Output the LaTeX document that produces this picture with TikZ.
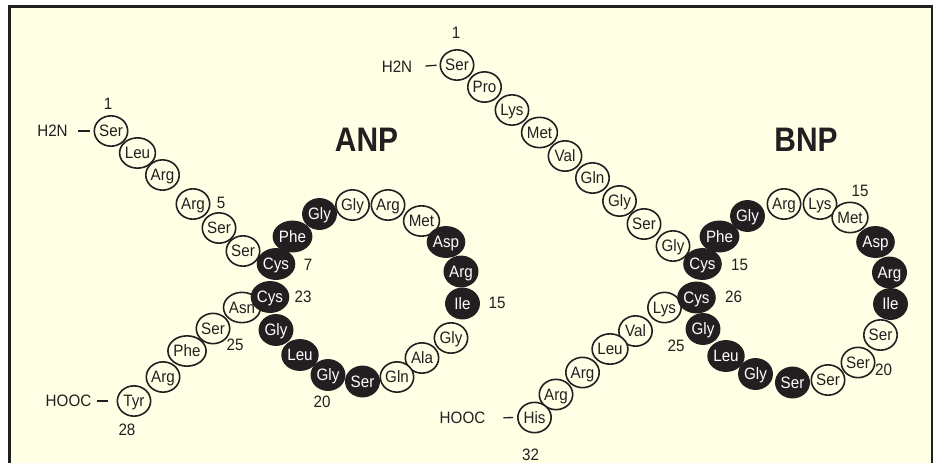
\documentclass[tikz,border=0pt]{standalone}
\usepackage{fontspec}
\setmainfont{Liberation Sans}[FakeStretch=0.92]
\newfontfamily\titlefont{Liberation Sans Bold}[FakeStretch=0.88]
\usetikzlibrary{shapes.geometric}
\definecolor{cream}{RGB}{255,255,230}
\definecolor{ink}{RGB}{35,31,32}

\begin{document}
\begin{tikzpicture}[x=1pt,y=-1pt,
  every node/.style={font=\fontsize{16.5}{16.5}\selectfont, text=ink},
  res/.style={ellipse, draw=ink, line width=1.6pt, fill=cream,
    minimum width=33.3pt, minimum height=30.3pt, inner sep=0pt,
    text height=11.8pt, text depth=0pt},
  resd/.style={res, fill=ink, text=white},
  num/.style={inner sep=0pt},
  term/.style={inner sep=0pt},
  title/.style={font=\titlefont\fontsize{34}{34}\selectfont, inner sep=0pt},
  bond/.style={draw=ink, line width=1.3pt}]

% page, background panel and frame
\useasboundingbox (0,0) rectangle (936,463);
\fill[white] (0,0) rectangle (936,463);
\fill[cream] (9.3,6.2) rectangle (932,463);
\draw[ink, line width=2.7pt] (9.3,463) -- (9.3,6.2) -- (932,6.2) -- (932,463);

% ---------------- ANP ----------------
\node[title] (anp) at (366.5,140) {ANP};

\node[res]  (a1)  at (111,131)     {Ser};
\node[res]  (a2)  at (137.5,153)   {Leu};
\node[res]  (a3)  at (162.5,175)   {Arg};
\node[res]  (a4)  at (193,204)     {Arg};
\node[res]  (a5)  at (219,228)     {Ser};
\node[res]  (a6)  at (243,251)     {Ser};
\node[resd] (a8)  at (292.5,236.5) {Phe};
\node[resd] (a9)  at (319.5,214)   {Gly};
\node[res]  (a10) at (352.5,205)   {Gly};
\node[res]  (a11) at (388,205)     {Arg};
\node[res]  (a12) at (421.5,221)   {Met};
\node[resd] (a13) at (446,242)     {Asp};
\node[resd] (a14) at (461,271.5)   {Arg};
\node[resd] (a15) at (462.5,303.5) {Ile};
\node[res]  (a16) at (451,338)     {Gly};
\node[res]  (a17) at (422,358)     {Ala};
\node[res]  (a18) at (397,377)     {Gln};
\node[resd] (a19) at (362.5,381.5) {Ser};
\node[resd] (a20) at (328,375)     {Gly};
\node[resd] (a21) at (300,355)     {Leu};
\node[resd] (a22) at (276,330)     {Gly};
\node[res]  (a24) at (242,307.5)   {Asn};
\node[resd] (a23) at (270,297)     {Cys};
\node[resd] (a7)  at (276,264)     {Cys};
\node[res]  (a25) at (213,328.5)   {Ser};
\node[res]  (a26) at (187,351)     {Phe};
\node[res]  (a27) at (163,377)     {Arg};
\node[res]  (a28) at (134,401)     {Tyr};

\node[num] at (108,104) {1};
\node[num] at (221,203) {5};
\node[num] at (308,265) {7};
\node[num] at (497,303) {15};
\node[num] at (322,402) {20};
\node[num] at (303,297) {23};
\node[num] at (235,345) {25};
\node[num] at (127,430) {28};

\node[term] (nA) at (52.5,131) {H2N};
\node[term] (cA) at (68.5,401) {HOOC};
\path[bond, shorten <=10pt, shorten >=3pt] (nA.east) -- (a1.west);
\path[bond, shorten <=6pt, shorten >=9pt] (cA.east) -- (a28.west);

% ---------------- BNP ----------------
\node[title] (bnp) at (806,140) {BNP};

\node[res]  (b1)  at (457,65)      {Ser};
\node[res]  (b2)  at (484.5,87)    {Pro};
\node[res]  (b3)  at (512,110)     {Lys};
\node[res]  (b4)  at (539.5,132.5) {Met};
\node[res]  (b5)  at (565,156)     {Val};
\node[res]  (b6)  at (592.5,178)   {Gln};
\node[res]  (b7)  at (619.5,201)   {Gly};
\node[res]  (b8)  at (644,224)     {Ser};
\node[res]  (b9)  at (673,246)     {Gly};
\node[resd] (b11) at (719.5,236.5) {Phe};
\node[resd] (b12) at (747.5,216)   {Gly};
\node[res]  (b13) at (784,204)     {Arg};
\node[res]  (b14) at (820,204)     {Lys};
\node[res]  (b15) at (850,217.5)   {Met};
\node[resd] (b16) at (875.5,242)   {Asp};
\node[resd] (b17) at (889.5,272.5) {Arg};
\node[resd] (b18) at (890.5,304)   {Ile};
\node[res]  (b19) at (880.5,335)   {Ser};
\node[res]  (b20) at (858,362.5)   {Ser};
\node[res]  (b21) at (828,380)     {Ser};
\node[resd] (b22) at (792.5,382.5) {Ser};
\node[resd] (b23) at (755.5,374)   {Gly};
\node[resd] (b24) at (726,356)     {Leu};
\node[resd] (b25) at (703,329)     {Gly};
\node[res]  (b27) at (664.5,307.5) {Lys};
\node[resd] (b26) at (696.5,297.5) {Cys};
\node[resd] (b10) at (702.5,264)   {Cys};
\node[res]  (b28) at (635.5,331)   {Val};
\node[res]  (b29) at (610,349)     {Leu};
\node[res]  (b30) at (582.5,372.5) {Arg};
\node[res]  (b31) at (556,394.5)   {Arg};
\node[res]  (b32) at (534.5,417.5) {His};

\node[num] at (456,33)    {1};
\node[num] at (739.5,265) {15};
\node[num] at (860,191)   {15};
\node[num] at (883.5,370) {20};
\node[num] at (733.5,297) {26};
\node[num] at (676,346)   {25};
\node[num] at (530.5,455) {32};

\node[term] (nB) at (397,67)    {H2N};
\node[term] (cB) at (462.5,418) {HOOC};
\path[bond, shorten <=13pt, shorten >=3pt] (nB.east) -- (b1.west);
\path[bond, shorten <=18pt, shorten >=4pt] (cB.east) -- (b32.west);

\end{tikzpicture}
\end{document}
